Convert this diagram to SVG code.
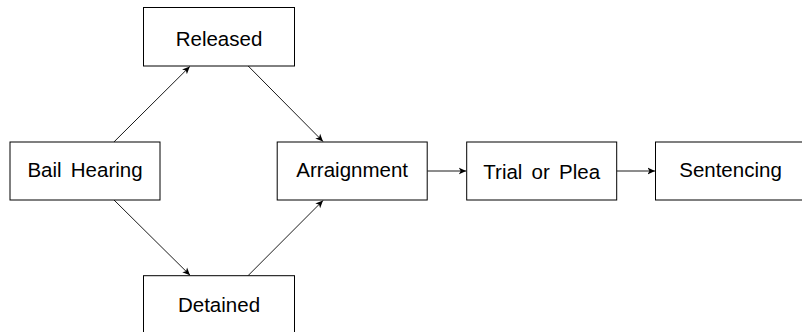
<svg xmlns="http://www.w3.org/2000/svg" width="802" height="332" viewBox="0 0 802 332">
<style>
.box{fill:#fff;stroke:#000;stroke-width:1}
.lbl{font-family:"Liberation Sans",Arial,sans-serif;font-size:20.5px;fill:#000;text-anchor:middle;word-spacing:3.5px}
.edge{fill:none;stroke:#000;stroke-width:0.9;marker-end:url(#arr)}
</style>
<defs>
<marker id="arr" markerUnits="userSpaceOnUse" markerWidth="10" markerHeight="8" refX="7.5" refY="4" orient="auto">
<path d="M7.5,4 L0,0.6 L2,4 L0,7.4 Z" fill="#000"/>
</marker>
</defs>
<rect width="802" height="332" fill="#fff"/>
<g id="connectors">
<line class="edge" x1="113.9" y1="142" x2="189.8" y2="66.5"/>
<line class="edge" x1="248.2" y1="66" x2="323" y2="141.5"/>
<line class="edge" x1="114" y1="200" x2="190" y2="275.2"/>
<line class="edge" x1="248" y1="275.7" x2="323" y2="200.5"/>
<line class="edge" x1="427.3" y1="171" x2="466.2" y2="171"/>
<line class="edge" x1="616.7" y1="171" x2="655" y2="171"/>
</g>
<g id="bail-hearing">
<rect class="box" x="10" y="142" width="150" height="58"/>
<text class="lbl" x="85" y="177">Bail Hearing</text>
</g>
<g id="released">
<rect class="box" x="143.5" y="7.5" width="151" height="58.5"/>
<text class="lbl" x="219" y="45.5">Released</text>
</g>
<g id="detained">
<rect class="box" x="143.5" y="275.7" width="151" height="58.5"/>
<text class="lbl" x="219" y="312">Detained</text>
</g>
<g id="arraignment">
<rect class="box" x="277.2" y="142" width="150" height="58"/>
<text class="lbl" x="352.2" y="177">Arraignment</text>
</g>
<g id="trial-or-plea">
<rect class="box" x="466.7" y="142" width="150" height="58"/>
<text class="lbl" x="541.7" y="178.5">Trial or Plea</text>
</g>
<g id="sentencing">
<rect class="box" x="655.5" y="142" width="150" height="58"/>
<text class="lbl" x="730.5" y="177">Sentencing</text>
</g>
</svg>
